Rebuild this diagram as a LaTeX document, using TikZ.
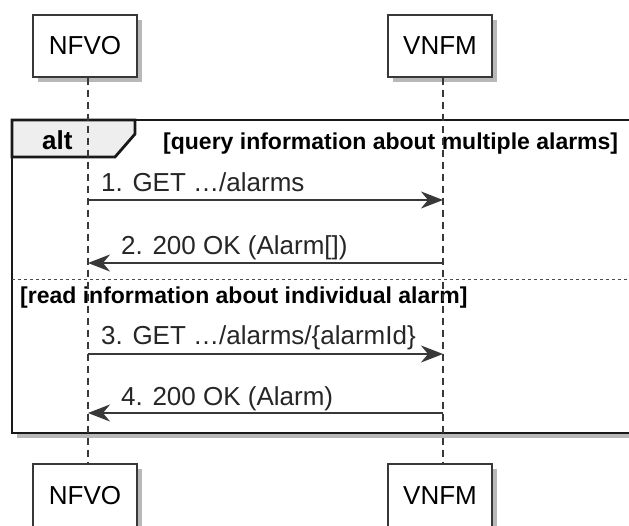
\documentclass[tikz,border=0pt]{standalone}
\usepackage{fontspec}
\setmainfont{Liberation Sans}
\usetikzlibrary{arrows.meta}
\definecolor{linegray}{HTML}{383838}
\definecolor{tabgray}{HTML}{EEEEEE}
\definecolor{shadowgray}{HTML}{B8B8B8}
\begin{document}
\begin{tikzpicture}[%
            x=1pt, y=-1pt,
            myshadow/.style={fill=shadowgray, draw=none},
            mybox/.style={draw=linegray, line width=1.4pt, fill=white,
                minimum width=104pt, minimum height=62pt, inner sep=0pt,
                font=\fontsize{26}{30}\selectfont},
            mylife/.style={draw=linegray, line width=1.1pt, dash pattern=on 7pt off 5pt},
            mymsg/.style={draw=linegray, line width=1.6pt,
                -{Stealth[length=22pt, width=17pt, inset=7pt]}},
            mytext/.style={anchor=base west, inner sep=0pt, text=black!85,
                font=\fontsize{26}{30}\selectfont},
            myguard/.style={anchor=base west, inner sep=0pt,
                font=\bfseries\fontsize{23}{27}\selectfont}
        ]
        \useasboundingbox (0,0) rectangle (629,526);
        \fill [white] (0,0) rectangle (629,526);

        % shadows
        \path [myshadow] (17,125) rectangle (629,438);
        \path [myshadow] (38,20) rectangle (142,82);
        \path [myshadow] (393,20) rectangle (497,82);
        \path [myshadow] (38,469) rectangle (142,526);
        \path [myshadow] (393,469) rectangle (497,526);

        % alt frame
        \draw [line width=2.8pt, draw=black!90, fill=white] (12,120) rectangle (632,433);
        \draw [line width=2.8pt, draw=black!90, fill=tabgray]
              (12,120) -- (135,120) -- (135,134) -- (115,157) -- (12,157) -- cycle;
        \node [myguard, font=\bfseries\fontsize{26}{30}\selectfont] (altname) at (42,150) {alt};
        \node [myguard] (guardone) at (163,150) {[query information about multiple alarms]};
        \draw [line width=1pt, draw=black!70, dash pattern=on 3pt off 3pt] (12,280) -- (629,280);
        \node [myguard] (guardtwo) at (20,304) {[read information about individual alarm]};

        % participants
        \node [mybox] (nfvotop) at (85,46) {NFVO};
        \node [mybox] (vnfmtop) at (440,46) {VNFM};
        \node [mybox, minimum height=64pt] (nfvobot) at (85,496) {NFVO};
        \node [mybox, minimum height=64pt] (vnfmbot) at (440,496) {VNFM};

        \coordinate (nfvol) at (88,0);
        \coordinate (vnfml) at (443,0);
        \draw [mylife] (nfvotop.south -| nfvol) -- (nfvobot.north -| nfvol);
        \draw [mylife] (vnfmtop.south -| vnfml) -- (vnfmbot.north -| vnfml);

        % messages
        \coordinate (mone) at (0,200);
        \coordinate (mtwo) at (0,263);
        \coordinate (mthree) at (0,354);
        \coordinate (mfour) at (0,413);
        \draw [mymsg] (nfvol |- mone) -- (vnfml |- mone);
        \node [mytext] (tone) at (101,192) {1. GET …/alarms};
        \draw [mymsg] (vnfml |- mtwo) -- (nfvol |- mtwo);
        \node [mytext] (ttwo) at (121,255) {2. 200 OK (Alarm[])};
        \draw [mymsg] (nfvol |- mthree) -- (vnfml |- mthree);
        \node [mytext] (tthree) at (101,345) {3. GET …/alarms/\{alarmId\}};
        \draw [mymsg] (vnfml |- mfour) -- (nfvol |- mfour);
        \node [mytext] (tfour) at (121,405) {4. 200 OK (Alarm)};
    \end{tikzpicture}
\end{document}
